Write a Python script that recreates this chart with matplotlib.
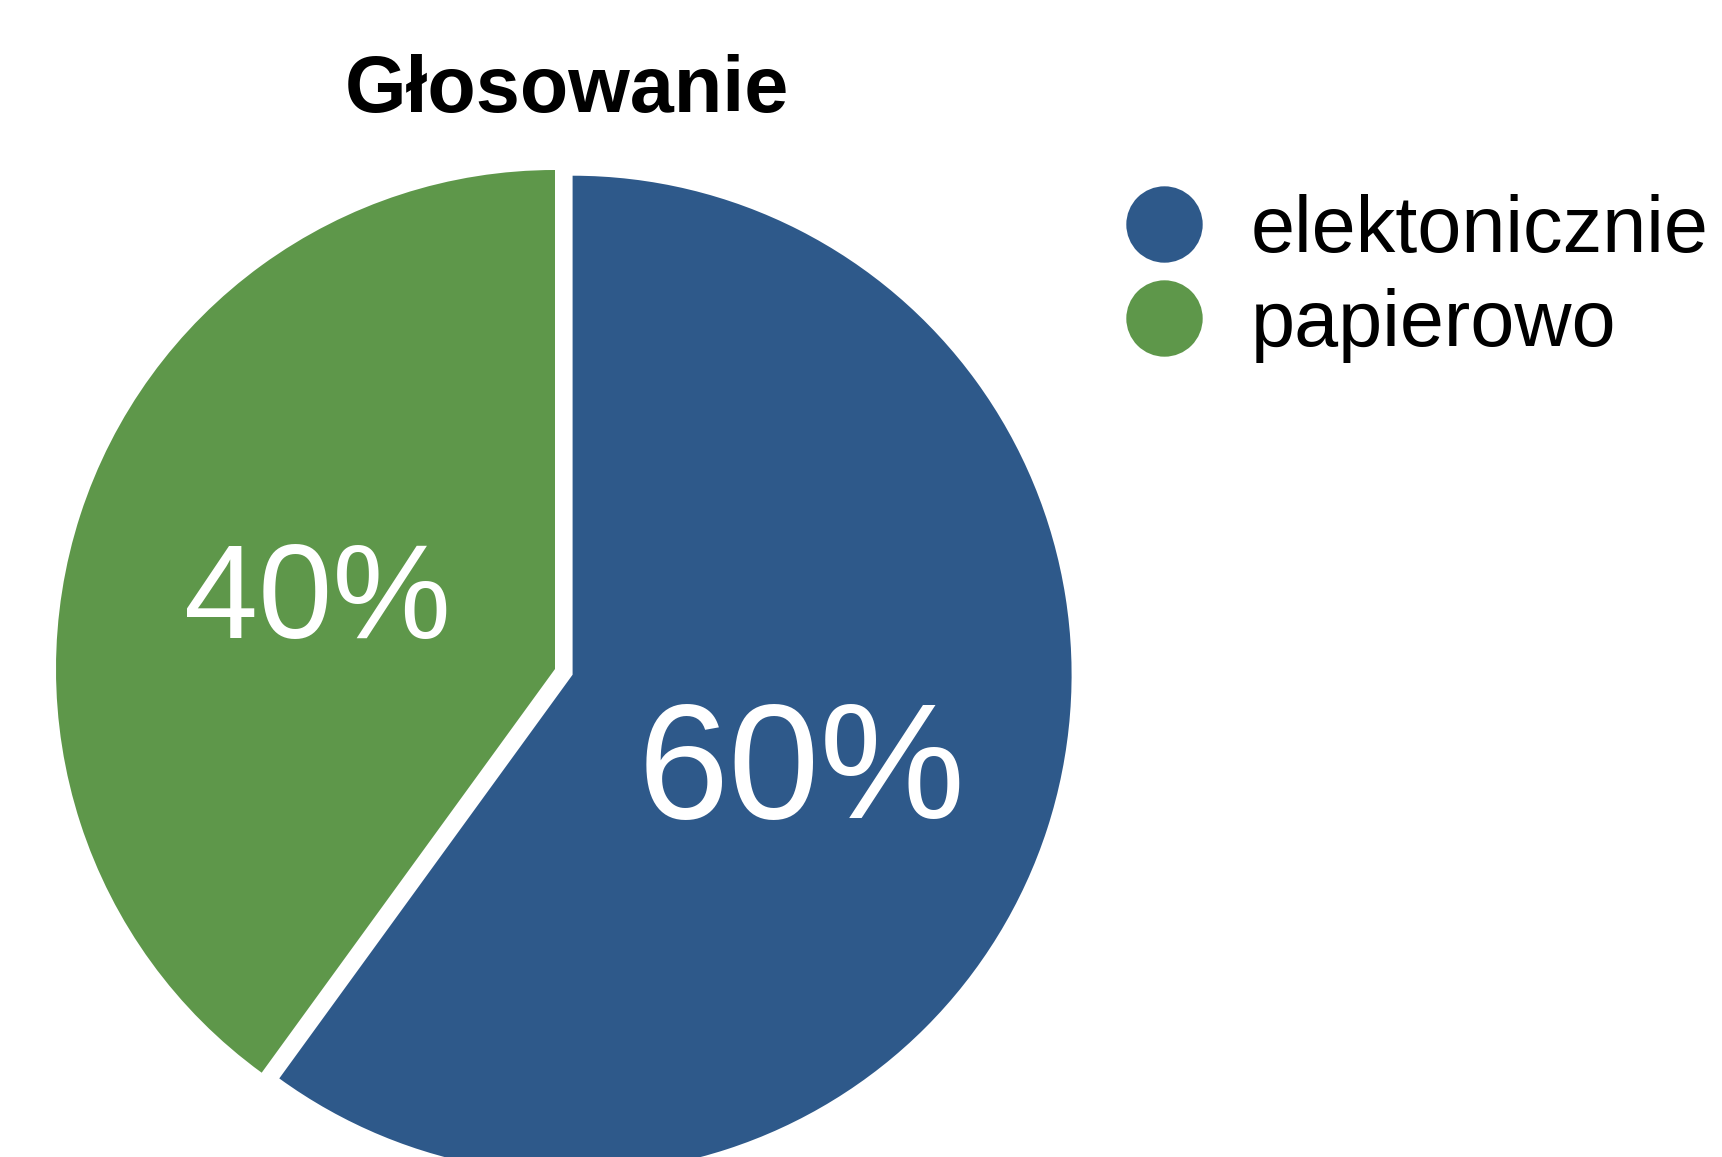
import matplotlib
matplotlib.use("Agg")
import matplotlib.pyplot as plt
from matplotlib.lines import Line2D
from matplotlib.transforms import ScaledTranslation

plt.rcParams["font.family"] = ["Liberation Sans", "DejaVu Sans"]

# ---------------------------------------------------------------------------
# Data
# ---------------------------------------------------------------------------
title = "Głosowanie"
labels = ["elektonicznie", "papierowo"]
shares = [60, 40]
colors = ["#2E598A", "#5E974A"]

# ---------------------------------------------------------------------------
# Figure (axes in pixel units, y up)
# ---------------------------------------------------------------------------
W, H = 1722, 1157
fig = plt.figure(figsize=(W / 100, H / 100), dpi=100)
ax = fig.add_axes([0, 0, 1, 1])

radius = 499
center = (555, H - 669)

wedges, texts, autotexts = ax.pie(
    shares,
    colors=colors,
    startangle=90,
    counterclock=False,
    radius=radius,
    center=center,
    explode=[18.5, 0],
    autopct="%d%%",
    pctdistance=0.5,
    wedgeprops={"linewidth": 0},
    textprops={"color": "white"},
)

# label sizes and small nudges (inches)
label_sizes = [118, 96]
label_nudge = [(-0.08, -0.24), (0.0, -0.12)]
for t, fs, (dx, dy) in zip(autotexts, label_sizes, label_nudge):
    t.set_fontsize(fs)
    t.set_transform(ax.transData + ScaledTranslation(dx, dy, fig.dpi_scale_trans))

ax.set_xlim(0, W)
ax.set_ylim(0, H)
ax.set_aspect("equal")
ax.axis("off")

ax.text(567, H - 112, title, ha="center", va="baseline",
        fontsize=57, fontweight="bold")

handles = [Line2D([], [], linestyle="none", marker="o", markersize=55,
                  markerfacecolor=c, markeredgewidth=0) for c in colors]
ax.legend(handles, labels, loc="upper left", bbox_to_anchor=(1124, H - 194),
          bbox_transform=ax.transData, frameon=False, fontsize=57,
          handlelength=1.0, handletextpad=0.6, labelspacing=0.24,
          borderpad=0, borderaxespad=0)

fig.savefig("out.png", dpi=100)
